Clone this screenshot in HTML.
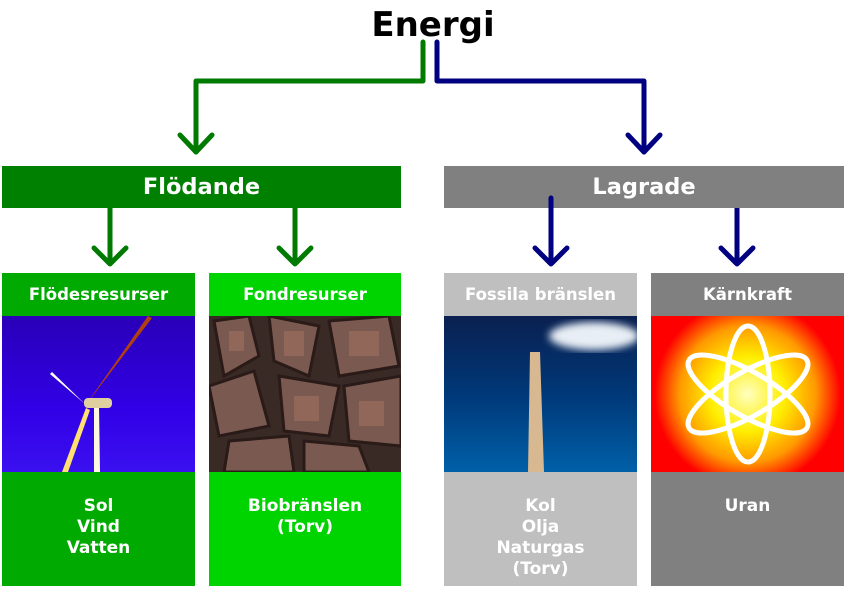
<!DOCTYPE html>
<html><head><meta charset="utf-8">
<style>
*{margin:0;padding:0;box-sizing:border-box}
body{width:856px;height:606px;background:#fff;position:relative;overflow:hidden;font-family:"DejaVu Sans","Liberation Sans",sans-serif;font-weight:bold;color:#fff}
.a{position:absolute}
.hdr{display:flex;align-items:center;justify-content:center}
.sub{font-size:16.5px}
.txt{font-size:17px;line-height:21px;text-align:center;padding-top:24px}
</style></head><body>
<div class="a" style="left:0;width:866px;top:5px;text-align:center;color:#000;font-size:34px;">Energi</div>

<svg class="a" style="left:0;top:0" width="856" height="606">
<g fill="none" stroke-width="5" stroke-linecap="round" stroke-linejoin="round">
<path d="M423 42 V81 H196 V152" stroke="#007a00"/>
<path d="M180 135 L196 152 L212 135" stroke="#007a00"/>
<path d="M437 42 V81 H644 V152" stroke="#000080"/>
<path d="M628 135 L644 152 L660 135" stroke="#000080"/>
<path d="M110 208 V264 M94 248 L110 264 L126 248" stroke="#007a00"/>
<path d="M295 208 V264 M279 248 L295 264 L311 248" stroke="#007a00"/>
<path d="M737 208 V264 M721 248 L737 264 L753 248" stroke="#000080"/>
</g></svg>

<div class="a hdr" style="left:2px;top:166px;width:399px;height:42px;background:#008000;font-size:22.5px">Flödande</div>
<div class="a hdr" style="left:444px;top:166px;width:400px;height:42px;background:#808080;font-size:22.5px">Lagrade</div>
<svg class="a" style="left:0;top:0" width="856" height="606"><path d="M551 198 V264 M535 248 L551 264 L567 248" fill="none" stroke="#000080" stroke-width="5" stroke-linecap="round" stroke-linejoin="round"/></svg>

<!-- column 1 -->
<div class="a hdr sub" style="left:2px;top:273px;width:193px;height:43px;background:#00aa00">Flödesresurser</div>
<div class="a" style="left:2px;top:316px;width:193px;height:156px;background:linear-gradient(180deg,#2a00b8,#3200e6 60%,#3a10f0)">
<svg width="193" height="156"><path d="M83 90 L150 2 L146 0 Z" fill="#b04010"/><path d="M83 88 L48 58 L50 56 Z" fill="#fff"/><path d="M92 90 L92 156 L98 156 L97 90Z" fill="#fff8e0"/><path d="M84 92 L60 156 L66 156 L88 94Z" fill="#ffe070"/><rect x="82" y="82" width="28" height="10" rx="4" fill="#e0d0a0"/></svg></div>
<div class="a txt" style="left:2px;top:472px;width:193px;height:114px;background:#00aa00">Sol<br>Vind<br>Vatten</div>

<!-- column 2 -->
<div class="a hdr sub" style="left:209px;top:273px;width:192px;height:43px;background:#00d400">Fondresurser</div>
<div class="a" style="left:209px;top:316px;width:192px;height:156px;background:#3a2a26">
<svg width="192" height="156"><g fill="#7a5a50" stroke="#2a1a18" stroke-width="3">
<path d="M5 5 L40 0 L50 40 L15 60Z"/><path d="M60 0 L110 10 L100 60 L65 45Z"/><path d="M120 5 L180 0 L190 50 L130 60Z"/><path d="M0 70 L45 55 L60 110 L10 120Z"/><path d="M70 60 L130 70 L120 120 L75 115Z"/><path d="M135 70 L192 60 L192 130 L140 125Z"/><path d="M20 125 L80 120 L85 156 L15 156Z"/><path d="M95 125 L150 130 L160 156 L95 156Z"/></g>
<g fill="#a07060" opacity=".6"><rect x="20" y="15" width="15" height="20"/><rect x="75" y="15" width="20" height="25"/><rect x="140" y="15" width="30" height="25"/><rect x="85" y="80" width="25" height="25"/><rect x="150" y="85" width="25" height="25"/></g></svg></div>
<div class="a txt" style="left:209px;top:472px;width:192px;height:114px;background:#00d400">Biobränslen<br>(Torv)</div>

<!-- column 3 -->
<div class="a hdr sub" style="left:444px;top:273px;width:193px;height:43px;background:#bfbfbf">Fossila bränslen</div>
<div class="a" style="left:444px;top:316px;width:193px;height:156px;background:linear-gradient(180deg,#0a2050,#003878 50%,#0060a8)">
<svg width="193" height="156"><defs><filter id="bl"><feGaussianBlur stdDeviation="4"/></filter></defs><ellipse cx="150" cy="20" rx="45" ry="14" fill="#e8eef5" filter="url(#bl)"/><path d="M86 36 L96 36 L100 156 L84 156Z" fill="#d8b890"/></svg></div>
<div class="a txt" style="left:444px;top:472px;width:193px;height:114px;background:#bfbfbf">Kol<br>Olja<br>Naturgas<br>(Torv)</div>

<!-- column 4 -->
<div class="a hdr sub" style="left:651px;top:273px;width:193px;height:43px;background:#808080">Kärnkraft</div>
<div class="a" style="left:651px;top:316px;width:193px;height:156px;background:radial-gradient(circle at 50% 50%,#ffffc0 0,#ffee00 30%,#ff9900 55%,#ff0000 75%)">
<svg width="193" height="156"><g fill="none" stroke="#fff" stroke-width="5"><ellipse cx="97" cy="78" rx="22" ry="68"/><ellipse cx="97" cy="78" rx="22" ry="68" transform="rotate(60 97 78)"/><ellipse cx="97" cy="78" rx="22" ry="68" transform="rotate(-60 97 78)"/></g></svg></div>
<div class="a txt" style="left:651px;top:472px;width:193px;height:114px;background:#808080">Uran</div>
</body></html>
